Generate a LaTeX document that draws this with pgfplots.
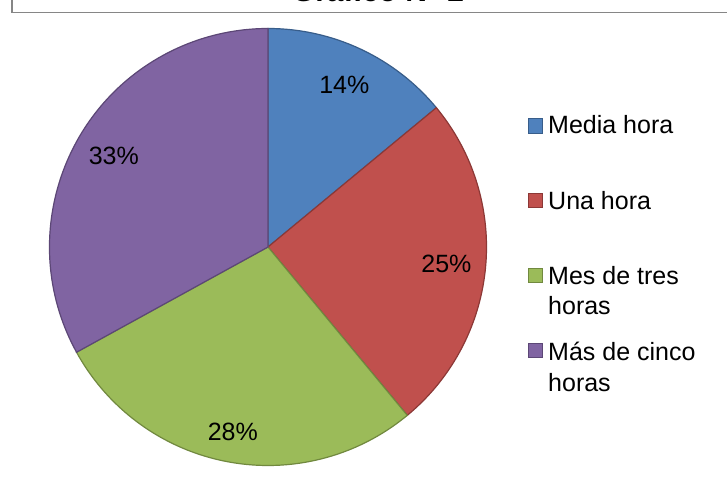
\documentclass[border=0pt]{standalone}
\usepackage{pgfplots}
\pgfplotsset{compat=1.18}
\usepackage{fontspec}
\setmainfont{Liberation Sans}

\definecolor{pieblue}{HTML}{4F81BD}
\definecolor{piebluedark}{HTML}{385D8A}
\definecolor{piered}{HTML}{C0504D}
\definecolor{pietreddark}{HTML}{8C3836}
\definecolor{piegreen}{HTML}{9BBB59}
\definecolor{piegreendark}{HTML}{71893F}
\definecolor{piepurple}{HTML}{8064A2}
\definecolor{piepurpledark}{HTML}{5C4776}
\definecolor{framegray}{HTML}{868686}

% shares in percent
\def\vA{14}
\def\vB{25}
\def\vC{28}
\def\vD{33}

\begin{document}
\begin{tikzpicture}[x=1pt,y=1pt]
\useasboundingbox (0,0) rectangle (727,484);
\clip (0,0) rectangle (727,484);

% slice boundaries, clockwise from the top
\pgfmathsetmacro\sA{90}
\pgfmathsetmacro\sB{\sA-3.6*\vA}
\pgfmathsetmacro\sC{\sB-3.6*\vB}
\pgfmathsetmacro\sD{\sC-3.6*\vC}
\pgfmathsetmacro\sE{\sD-3.6*\vD}
\pgfmathsetmacro\mA{(\sA+\sB)/2}
\pgfmathsetmacro\mB{(\sB+\sC)/2}
\pgfmathsetmacro\mC{(\sC+\sD)/2}
\pgfmathsetmacro\mD{(\sD+\sE)/2}
\def\R{218.5}

% chart frame (cut at right and bottom)
\draw[framegray, line width=1.7pt] (11.8,800) -- (11.8,471.4) -- (800,471.4);

% title (cut at the top)
\node[anchor=base, inner sep=0pt, font=\bfseries\fontsize{30}{34}\selectfont]
  at (378,482) {Gráfico N° 2};

\begin{axis}[
    hide axis,
    scale only axis,
    width=437pt, height=437pt,
    xmin=-1, xmax=1, ymin=-1, ymax=1,
    anchor=center, at={(268pt,237pt)},
    clip=false,
]
\filldraw[fill=pieblue, draw=piebluedark, line width=1.2pt]
  (axis cs:0,0) -- +(\sA:\R pt) arc[start angle=\sA, end angle=\sB, radius=\R pt] -- cycle;
\filldraw[fill=piered, draw=pietreddark, line width=1.2pt]
  (axis cs:0,0) -- +(\sB:\R pt) arc[start angle=\sB, end angle=\sC, radius=\R pt] -- cycle;
\filldraw[fill=piegreen, draw=piegreendark, line width=1.2pt]
  (axis cs:0,0) -- +(\sC:\R pt) arc[start angle=\sC, end angle=\sD, radius=\R pt] -- cycle;
\filldraw[fill=piepurple, draw=piepurpledark, line width=1.2pt]
  (axis cs:0,0) -- +(\sD:\R pt) arc[start angle=\sD, end angle=\sE, radius=\R pt] -- cycle;

\node[font=\fontsize{25}{30}\selectfont] at (axis cs:{0.82*cos(\mA)},{0.82*sin(\mA)}) {\vA\%};
\node[font=\fontsize{25}{30}\selectfont] at (axis cs:{0.82*cos(\mB)},{0.82*sin(\mB)}) {\vB\%};
\node[font=\fontsize{25}{30}\selectfont] at (axis cs:{0.86*cos(\mC)},{0.86*sin(\mC)}) {\vC\%};
\node[font=\fontsize{25}{30}\selectfont] at (axis cs:{0.82*cos(\mD)},{0.82*sin(\mD)}) {\vD\%};
\end{axis}

% legend
\begin{scope}[every node/.style={anchor=base west, inner sep=0pt, font=\fontsize{25}{30}\selectfont}]
\filldraw[fill=pieblue, draw=piebluedark, line width=1pt] (528.5,350.5) rectangle (542.5,365.5);
\node at (548,350) {Media hora};
\filldraw[fill=piered, draw=pietreddark, line width=1pt] (528.5,276.5) rectangle (542.5,290.5);
\node at (548,274) {Una hora};
\filldraw[fill=piegreen, draw=piegreendark, line width=1pt] (528.5,201.5) rectangle (542.5,215.5);
\node at (548,199) {Mes de tres};
\node at (548,169) {horas};
\filldraw[fill=piepurple, draw=piepurpledark, line width=1pt] (528.5,126.5) rectangle (542.5,140.5);
\node at (548,123) {Más de cinco};
\node at (548,92) {horas};
\end{scope}
\end{tikzpicture}
\end{document}
